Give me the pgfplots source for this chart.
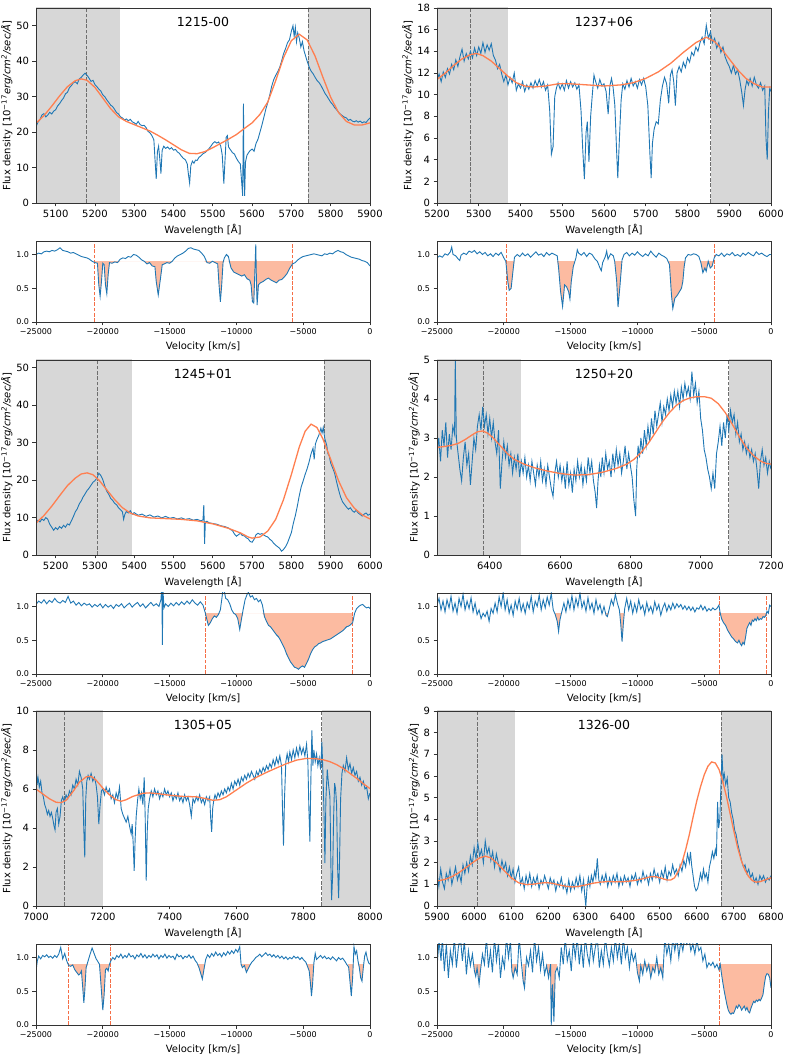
\documentclass[border=0pt]{standalone}
\usepackage{fontspec}
\setmainfont{DejaVu Sans}
\usepackage{pgfplots}
\pgfplotsset{compat=1.18}
\usepackage{pgfplotstable}

\definecolor{specc}{RGB}{31,119,180}
\definecolor{fitc}{RGB}{255,127,80}
\definecolor{fillc}{RGB}{252,187,161}
\definecolor{vlinec}{RGB}{245,110,70}
\definecolor{shade}{RGB}{215,215,215}
\definecolor{dashg}{RGB}{110,110,110}

% ---------- 1215-00 ----------
\pgfplotstableread[row sep=\\]{
x y\\
5050 21.5\\ 5055 22.8\\ 5060 23.5\\ 5065 24.8\\ 5070 25.2\\ 5075 24.3\\ 5080 24.8\\ 5085 25.6\\ 5090 25.1\\ 5095 25.9\\
5100 26.3\\ 5105 27.4\\ 5110 28.0\\ 5115 28.9\\ 5120 29.6\\ 5125 30.8\\ 5130 31.2\\ 5135 32.5\\ 5140 33.1\\ 5145 33.9\\
5150 34.2\\ 5155 33.6\\ 5160 35.0\\ 5165 35.4\\ 5170 36.1\\ 5175 36.6\\ 5180 36.0\\ 5185 35.2\\ 5190 34.3\\ 5195 34.6\\
5200 33.4\\ 5205 32.8\\ 5210 32.1\\ 5215 31.6\\ 5220 30.5\\ 5225 30.0\\ 5230 29.1\\ 5235 28.4\\ 5240 27.6\\ 5245 27.2\\
5250 26.4\\ 5255 25.5\\ 5260 25.1\\ 5265 24.3\\ 5270 24.0\\ 5275 23.4\\ 5280 23.7\\ 5285 23.2\\ 5290 23.6\\ 5295 22.9\\
5300 22.6\\ 5305 22.2\\ 5310 23.0\\ 5315 22.1\\ 5320 21.8\\ 5325 21.9\\ 5330 21.3\\ 5335 20.2\\ 5340 19.8\\ 5345 19.0\\
5350 17.8\\ 5353 12.0\\ 5356 6.8\\ 5359 14.5\\ 5362 16.0\\ 5365 12.5\\ 5368 8.3\\ 5371 14.8\\ 5375 16.0\\ 5380 15.4\\
5385 15.8\\ 5390 15.2\\ 5395 15.6\\ 5400 14.9\\ 5405 15.1\\ 5410 14.4\\ 5415 14.0\\ 5420 13.2\\ 5425 12.6\\ 5430 12.2\\
5435 11.0\\ 5438 8.0\\ 5441 5.6\\ 5444 10.5\\ 5448 11.8\\ 5452 11.2\\ 5456 12.1\\ 5460 12.0\\ 5465 12.9\\ 5470 13.3\\
5475 13.9\\ 5480 14.2\\ 5485 14.7\\ 5490 15.3\\ 5495 16.0\\ 5500 16.8\\ 5505 17.3\\ 5510 16.9\\ 5515 17.2\\ 5520 16.1\\
5524 13.5\\ 5528 5.5\\ 5531 12.0\\ 5534 18.5\\ 5537 19.0\\ 5540 15.8\\ 5545 15.0\\ 5550 14.2\\ 5555 13.8\\ 5560 12.6\\
5565 11.7\\ 5570 11.0\\ 5574 5.0\\ 5576 2.0\\ 5578 28.0\\ 5579 12.0\\ 5581 2.0\\ 5583 11.5\\ 5587 13.5\\ 5591 14.2\\
5595 14.8\\ 5600 15.2\\ 5605 14.6\\ 5610 16.8\\ 5615 18.0\\ 5620 20.0\\ 5625 22.0\\ 5630 24.2\\ 5635 26.5\\ 5640 28.4\\
5645 30.5\\ 5650 33.0\\ 5655 34.8\\ 5660 36.0\\ 5665 37.0\\ 5670 38.2\\ 5675 40.0\\ 5680 42.1\\ 5685 43.5\\ 5690 45.2\\
5695 46.0\\ 5700 48.5\\ 5704 50.0\\ 5707 47.0\\ 5710 49.5\\ 5713 45.5\\ 5716 48.0\\ 5720 46.5\\ 5724 44.0\\ 5728 45.5\\
5732 43.0\\ 5736 41.5\\ 5740 40.0\\ 5745 38.4\\ 5750 37.2\\ 5755 36.5\\ 5760 35.5\\ 5765 34.6\\ 5770 34.0\\ 5775 33.2\\
5780 32.1\\ 5785 31.0\\ 5790 30.2\\ 5795 29.3\\ 5800 28.4\\ 5805 27.8\\ 5810 26.9\\ 5815 26.3\\ 5820 25.6\\ 5825 25.0\\
5830 24.6\\ 5835 24.2\\ 5840 24.0\\ 5845 23.3\\ 5850 23.6\\ 5855 23.1\\ 5860 22.9\\ 5865 23.2\\ 5870 22.8\\ 5875 23.1\\
5880 22.6\\ 5885 22.9\\ 5890 22.7\\ 5895 23.4\\ 5900 24.0\\
}\specA
\pgfplotstableread[row sep=\\]{
x y\\
5050 22.5\\ 5070 24.6\\ 5090 27.3\\ 5110 30.2\\ 5130 32.8\\ 5150 34.5\\ 5165 35.0\\ 5180 34.6\\ 5200 32.6\\ 5220 29.6\\
5240 26.6\\ 5260 24.3\\ 5280 23.0\\ 5300 22.1\\ 5320 21.2\\ 5340 20.3\\ 5360 19.1\\ 5380 17.8\\ 5400 16.4\\ 5420 15.0\\
5440 14.0\\ 5460 13.9\\ 5480 14.5\\ 5500 15.6\\ 5520 16.8\\ 5540 18.0\\ 5560 19.3\\ 5580 21.0\\ 5600 22.6\\ 5620 25.0\\
5640 28.5\\ 5660 34.5\\ 5680 41.0\\ 5700 45.8\\ 5720 47.6\\ 5740 46.0\\ 5760 41.5\\ 5780 35.5\\ 5800 29.8\\ 5820 25.5\\
5840 23.0\\ 5860 22.0\\ 5880 22.0\\ 5900 22.6\\
}\fitA
\pgfplotstableread[row sep=\\]{
x y\\
-25000 1.00\\ -24800 1.02\\ -24600 1.01\\ -24400 1.04\\ -24200 1.05\\ -24000 1.04\\ -23800 1.06\\ -23600 1.05\\ -23400 1.07\\ -23200 1.10\\
-23000 1.06\\ -22800 1.05\\ -22600 1.04\\ -22400 1.02\\ -22200 1.03\\ -22000 1.01\\ -21800 0.99\\ -21600 0.97\\ -21400 0.96\\ -21200 0.95\\
-21000 0.93\\ -20800 0.90\\ -20600 0.88\\ -20400 0.87\\ -20300 0.55\\ -20200 0.38\\ -20100 0.60\\ -20000 0.87\\ -19900 0.85\\ -19800 0.55\\
-19700 0.42\\ -19600 0.70\\ -19500 0.88\\ -19300 0.87\\ -19100 0.89\\ -18900 0.88\\ -18700 0.93\\ -18500 0.95\\ -18300 0.94\\ -18100 0.97\\
-17900 0.96\\ -17700 1.00\\ -17500 0.99\\ -17300 0.96\\ -17100 0.92\\ -16900 0.90\\ -16700 0.86\\ -16500 0.88\\ -16300 0.83\\ -16100 0.82\\
-16000 0.60\\ -15850 0.40\\ -15700 0.62\\ -15550 0.85\\ -15400 0.86\\ -15200 0.88\\ -15000 0.87\\ -14800 0.90\\ -14600 0.95\\ -14400 0.98\\
-14200 1.00\\ -14000 1.02\\ -13800 1.05\\ -13600 1.09\\ -13400 1.10\\ -13200 1.08\\ -13000 1.07\\ -12800 1.06\\ -12600 1.02\\ -12400 0.97\\
-12200 0.88\\ -12000 0.87\\ -11800 0.90\\ -11600 0.88\\ -11400 0.86\\ -11300 0.55\\ -11200 0.30\\ -11100 0.55\\ -11000 0.88\\ -10900 0.95\\
-10750 1.00\\ -10600 0.97\\ -10500 0.88\\ -10400 0.80\\ -10200 0.74\\ -10000 0.72\\ -9800 0.70\\ -9600 0.68\\ -9400 0.70\\ -9200 0.64\\
-9000 0.62\\ -8900 0.55\\ -8800 0.30\\ -8700 0.28\\ -8600 0.85\\ -8550 1.15\\ -8500 0.60\\ -8450 0.25\\ -8350 0.55\\ -8200 0.58\\
-8000 0.60\\ -7800 0.63\\ -7600 0.65\\ -7400 0.62\\ -7200 0.60\\ -7000 0.58\\ -6800 0.62\\ -6600 0.63\\ -6400 0.67\\ -6200 0.72\\
-6000 0.80\\ -5800 0.86\\ -5600 0.88\\ -5400 0.92\\ -5200 0.95\\ -5000 0.97\\ -4800 0.98\\ -4600 0.99\\ -4400 1.00\\ -4200 1.01\\
-4000 1.00\\ -3800 0.99\\ -3600 0.98\\ -3400 1.01\\ -3200 1.00\\ -3000 1.02\\ -2800 1.01\\ -2600 1.04\\ -2400 1.06\\ -2200 1.04\\
-2000 1.03\\ -1800 1.00\\ -1600 0.98\\ -1400 0.96\\ -1200 0.95\\ -1000 0.94\\ -800 0.93\\ -600 0.91\\ -400 0.90\\ -200 0.88\\ 0 0.83\\
}\velA

% ---------- 1237+06 ----------
\pgfplotstableread[row sep=\\]{
x y\\
5200 11.3\\ 5205 11.9\\ 5210 11.2\\ 5215 12.1\\ 5220 11.6\\ 5225 12.4\\ 5230 11.9\\ 5235 12.8\\ 5240 12.3\\ 5245 13.2\\
5250 12.6\\ 5255 13.5\\ 5260 14.2\\ 5265 13.1\\ 5270 13.8\\ 5275 13.3\\ 5280 14.0\\ 5285 13.4\\ 5290 14.3\\ 5295 13.6\\
5300 14.4\\ 5305 13.8\\ 5310 14.8\\ 5315 13.9\\ 5320 14.6\\ 5325 14.1\\ 5330 14.7\\ 5335 13.6\\ 5340 13.2\\ 5345 12.4\\
5350 12.8\\ 5355 11.9\\ 5360 11.2\\ 5365 11.8\\ 5370 10.9\\ 5375 11.6\\ 5380 11.1\\ 5385 12.0\\ 5390 10.4\\ 5395 11.0\\
5400 10.6\\ 5405 11.2\\ 5410 10.3\\ 5415 10.9\\ 5420 10.5\\ 5425 11.1\\ 5430 10.6\\ 5435 11.3\\ 5440 10.8\\ 5445 11.4\\
5450 10.7\\ 5455 11.2\\ 5460 10.4\\ 5465 10.9\\ 5470 8.5\\ 5474 4.5\\ 5478 5.2\\ 5482 9.8\\ 5486 10.6\\ 5490 11.1\\
5495 10.5\\ 5500 11.0\\ 5505 10.4\\ 5510 11.3\\ 5515 10.6\\ 5520 11.2\\ 5525 10.7\\ 5530 11.1\\ 5535 10.5\\ 5540 10.9\\
5545 8.5\\ 5549 5.0\\ 5553 2.2\\ 5557 6.5\\ 5560 7.5\\ 5564 3.8\\ 5568 8.0\\ 5572 10.0\\ 5576 11.8\\ 5580 11.2\\
5585 10.6\\ 5590 11.4\\ 5595 10.8\\ 5600 11.0\\ 5605 10.3\\ 5610 8.2\\ 5614 10.8\\ 5618 11.5\\ 5622 10.6\\ 5626 9.0\\
5630 5.0\\ 5633 2.3\\ 5637 6.0\\ 5641 9.5\\ 5645 11.0\\ 5650 10.5\\ 5655 11.3\\ 5660 10.7\\ 5665 11.5\\ 5670 10.8\\
5675 11.2\\ 5680 10.6\\ 5685 11.4\\ 5690 10.9\\ 5695 11.5\\ 5700 10.7\\ 5705 9.0\\ 5710 4.5\\ 5713 2.3\\ 5716 5.5\\
5720 6.8\\ 5725 7.5\\ 5730 7.3\\ 5735 9.5\\ 5740 10.8\\ 5745 11.6\\ 5750 11.0\\ 5755 9.2\\ 5759 11.8\\ 5763 12.3\\
5767 11.2\\ 5771 9.0\\ 5775 12.0\\ 5780 12.6\\ 5785 12.1\\ 5790 13.0\\ 5795 12.5\\ 5800 13.4\\ 5805 13.0\\ 5810 13.9\\
5815 13.6\\ 5820 14.4\\ 5825 14.0\\ 5830 14.8\\ 5835 15.3\\ 5840 14.7\\ 5845 16.4\\ 5850 15.2\\ 5855 15.8\\ 5860 14.8\\
5865 15.2\\ 5870 14.3\\ 5875 14.8\\ 5880 13.9\\ 5885 14.4\\ 5890 13.5\\ 5895 13.0\\ 5900 12.6\\ 5905 12.0\\ 5910 12.7\\
5915 11.9\\ 5920 12.3\\ 5925 11.4\\ 5930 10.2\\ 5934 9.0\\ 5938 10.5\\ 5942 11.3\\ 5946 10.9\\ 5950 11.5\\ 5955 10.8\\
5960 11.6\\ 5965 10.9\\ 5970 10.6\\ 5975 11.1\\ 5980 10.4\\ 5985 10.8\\ 5988 6.0\\ 5991 4.0\\ 5994 8.5\\ 5997 10.6\\ 6000 10.3\\
}\specB
\pgfplotstableread[row sep=\\]{
x y\\
5200 11.4\\ 5220 12.0\\ 5240 12.7\\ 5260 13.3\\ 5280 13.7\\ 5295 13.8\\ 5310 13.6\\ 5330 13.1\\ 5350 12.4\\ 5370 11.7\\
5390 11.1\\ 5410 10.8\\ 5430 10.7\\ 5460 10.8\\ 5490 11.0\\ 5520 11.0\\ 5560 10.9\\ 5600 10.8\\ 5640 10.9\\ 5670 11.1\\
5700 11.5\\ 5730 12.1\\ 5760 12.9\\ 5790 13.9\\ 5820 14.8\\ 5845 15.3\\ 5865 14.9\\ 5880 14.3\\ 5900 13.3\\ 5920 12.3\\
5940 11.5\\ 5960 11.0\\ 5980 10.7\\ 6000 10.7\\
}\fitB
\pgfplotstableread[row sep=\\]{
x y\\
-25000 0.95\\ -24800 0.98\\ -24600 0.96\\ -24400 1.01\\ -24200 0.99\\ -24000 1.04\\ -23900 1.11\\ -23800 1.00\\ -23600 0.98\\ -23400 0.93\\
-23300 0.91\\ -23200 0.99\\ -23000 1.02\\ -22800 1.00\\ -22600 1.05\\ -22400 1.03\\ -22200 1.06\\ -22000 1.01\\ -21800 1.04\\ -21600 1.00\\
-21400 1.03\\ -21200 0.98\\ -21000 1.01\\ -20800 0.97\\ -20600 1.02\\ -20400 0.99\\ -20200 1.03\\ -20000 0.95\\ -19850 0.90\\ -19700 0.60\\
-19600 0.47\\ -19450 0.50\\ -19300 0.78\\ -19200 0.96\\ -19000 1.00\\ -18800 0.97\\ -18600 1.02\\ -18400 0.98\\ -18200 1.01\\ -18000 0.96\\
-17800 1.00\\ -17600 1.04\\ -17400 0.99\\ -17200 1.01\\ -17000 0.97\\ -16800 1.03\\ -16600 0.99\\ -16400 1.02\\ -16200 1.00\\ -16000 0.98\\
-15900 0.80\\ -15750 0.45\\ -15600 0.23\\ -15450 0.55\\ -15300 0.52\\ -15150 0.45\\ -15050 0.34\\ -14950 0.60\\ -14800 0.82\\ -14600 0.95\\
-14500 1.07\\ -14400 1.02\\ -14200 0.99\\ -14000 1.03\\ -13800 0.97\\ -13600 1.02\\ -13400 1.00\\ -13200 0.94\\ -13000 0.90\\ -12800 0.80\\
-12700 0.76\\ -12600 0.88\\ -12400 0.97\\ -12300 1.05\\ -12200 0.93\\ -12000 1.01\\ -11800 0.98\\ -11700 0.90\\ -11550 0.60\\ -11450 0.22\\
-11300 0.55\\ -11150 0.92\\ -11000 1.00\\ -10800 1.03\\ -10600 0.98\\ -10400 1.02\\ -10200 0.99\\ -10000 1.04\\ -9800 1.00\\ -9600 0.97\\
-9400 1.01\\ -9200 0.98\\ -9000 1.05\\ -8800 1.00\\ -8600 0.96\\ -8400 1.02\\ -8200 0.99\\ -8000 0.97\\ -7800 0.94\\ -7600 0.85\\
-7450 0.40\\ -7350 0.20\\ -7200 0.35\\ -7000 0.40\\ -6850 0.45\\ -6700 0.50\\ -6600 0.60\\ -6500 0.82\\ -6400 0.95\\ -6200 1.00\\
-6000 0.99\\ -5800 1.01\\ -5600 1.00\\ -5400 0.97\\ -5250 0.88\\ -5100 0.73\\ -4950 0.80\\ -4850 0.75\\ -4700 0.90\\ -4550 0.80\\
-4400 0.83\\ -4250 0.95\\ -4100 1.00\\ -3900 0.98\\ -3700 1.02\\ -3500 0.97\\ -3300 1.01\\ -3100 0.99\\ -2900 1.03\\ -2700 0.98\\
-2500 1.00\\ -2300 0.97\\ -2100 1.02\\ -1900 0.99\\ -1700 1.03\\ -1500 1.00\\ -1300 0.98\\ -1100 1.04\\ -900 1.00\\ -700 1.02\\
-500 0.99\\ -300 0.97\\ -100 1.00\\ 0 1.00\\
}\velB

% ---------- 1245+01 ----------
\pgfplotstableread[row sep=\\]{
x y\\
5150 8.5\\ 5155 9.3\\ 5160 8.8\\ 5165 9.6\\ 5170 9.2\\ 5175 10.0\\ 5180 9.5\\ 5185 8.2\\ 5190 7.4\\ 5195 6.6\\
5200 7.3\\ 5205 6.8\\ 5210 7.6\\ 5215 7.1\\ 5220 7.9\\ 5225 7.4\\ 5230 8.3\\ 5235 8.0\\ 5240 9.1\\ 5245 10.2\\
5250 11.5\\ 5255 12.3\\ 5260 13.6\\ 5265 14.4\\ 5270 15.5\\ 5275 16.3\\ 5280 17.2\\ 5285 17.8\\ 5290 18.6\\ 5295 19.4\\
5300 19.8\\ 5305 20.5\\ 5310 21.8\\ 5315 21.2\\ 5320 20.1\\ 5325 18.4\\ 5330 17.0\\ 5335 16.2\\ 5340 15.1\\ 5345 14.6\\
5350 13.8\\ 5355 13.4\\ 5360 12.6\\ 5365 12.1\\ 5370 11.5\\ 5373 9.5\\ 5376 10.8\\ 5380 11.6\\ 5385 11.2\\ 5390 11.8\\
5395 10.9\\ 5400 11.3\\ 5410 10.6\\ 5420 10.9\\ 5430 10.3\\ 5440 10.7\\ 5450 10.1\\ 5460 10.4\\ 5470 9.9\\ 5480 10.3\\
5490 9.8\\ 5500 10.0\\ 5510 9.6\\ 5520 9.9\\ 5530 9.5\\ 5540 9.7\\ 5550 9.3\\ 5560 9.5\\ 5570 9.1\\ 5575 9.4\\
5577 13.3\\ 5578 9.0\\ 5579 3.0\\ 5581 8.8\\ 5585 9.0\\ 5590 8.6\\ 5600 8.4\\ 5610 8.2\\ 5620 7.8\\ 5630 7.6\\
5640 7.2\\ 5645 6.8\\ 5650 6.5\\ 5655 5.6\\ 5660 5.0\\ 5665 5.4\\ 5670 5.8\\ 5675 5.2\\ 5680 5.1\\ 5685 4.6\\
5690 4.3\\ 5695 3.6\\ 5700 3.4\\ 5705 4.2\\ 5710 5.4\\ 5715 5.8\\ 5720 5.5\\ 5725 5.7\\ 5730 5.3\\ 5735 5.0\\
5740 4.8\\ 5745 4.2\\ 5750 3.8\\ 5755 3.1\\ 5760 2.6\\ 5765 2.2\\ 5770 1.8\\ 5775 1.0\\ 5780 1.5\\ 5785 2.2\\
5790 3.2\\ 5795 4.6\\ 5800 6.0\\ 5805 8.5\\ 5810 10.5\\ 5815 13.0\\ 5820 15.8\\ 5825 18.2\\ 5830 19.8\\ 5835 21.5\\
5840 23.0\\ 5845 24.8\\ 5850 27.0\\ 5855 28.5\\ 5858 25.5\\ 5861 29.6\\ 5865 30.8\\ 5870 32.0\\ 5875 33.8\\ 5878 32.5\\
5881 34.0\\ 5885 31.0\\ 5890 29.2\\ 5893 27.0\\ 5896 26.5\\ 5900 24.5\\ 5905 23.2\\ 5910 21.8\\ 5915 19.5\\ 5920 17.4\\
5925 15.5\\ 5930 14.2\\ 5935 13.5\\ 5940 12.8\\ 5945 12.2\\ 5950 12.6\\ 5955 11.8\\ 5960 11.4\\ 5965 11.9\\ 5970 11.2\\
5975 10.8\\ 5980 10.4\\ 5985 10.9\\ 5990 11.2\\ 5995 10.6\\ 6000 10.9\\
}\specC
\pgfplotstableread[row sep=\\]{
x y\\
5150 8.5\\ 5170 10.5\\ 5190 13.0\\ 5210 15.8\\ 5230 18.5\\ 5250 20.5\\ 5265 21.6\\ 5280 21.9\\ 5295 21.4\\ 5310 20.0\\
5330 17.4\\ 5350 14.8\\ 5370 12.6\\ 5390 11.2\\ 5410 10.4\\ 5440 9.9\\ 5480 9.7\\ 5520 9.5\\ 5560 9.1\\ 5600 8.3\\
5640 7.1\\ 5670 5.9\\ 5690 4.8\\ 5700 4.5\\ 5720 4.8\\ 5740 6.4\\ 5760 9.5\\ 5780 14.8\\ 5800 21.5\\ 5820 28.8\\
5835 33.0\\ 5850 34.9\\ 5865 34.0\\ 5880 31.0\\ 5900 25.5\\ 5920 19.8\\ 5940 15.3\\ 5960 12.5\\ 5980 10.7\\ 6000 9.6\\
}\fitC
\pgfplotstableread[row sep=\\]{
x y\\
-25000 1.03\\ -24800 1.08\\ -24600 1.05\\ -24400 1.10\\ -24200 1.04\\ -24000 1.09\\ -23800 1.06\\ -23600 1.12\\ -23400 1.07\\ -23200 1.05\\
-23000 1.09\\ -22800 1.06\\ -22600 1.15\\ -22400 1.05\\ -22200 1.08\\ -22000 1.02\\ -21800 1.06\\ -21600 1.01\\ -21400 1.05\\ -21200 1.02\\
-21000 1.04\\ -20800 0.99\\ -20600 1.03\\ -20400 1.00\\ -20200 1.04\\ -20000 0.98\\ -19800 1.03\\ -19600 0.99\\ -19400 1.02\\ -19200 0.97\\
-19000 1.03\\ -18800 1.00\\ -18600 1.04\\ -18400 0.98\\ -18200 1.02\\ -18000 1.05\\ -17800 0.99\\ -17600 1.03\\ -17400 1.06\\ -17200 1.00\\
-17000 1.04\\ -16800 0.98\\ -16600 1.02\\ -16400 1.06\\ -16200 1.01\\ -16000 1.04\\ -15800 1.00\\ -15650 1.10\\ -15580 1.30\\ -15540 0.43\\
-15500 1.25\\ -15420 0.98\\ -15300 1.04\\ -15100 1.00\\ -14900 1.05\\ -14700 1.01\\ -14500 1.06\\ -14300 1.02\\ -14100 1.07\\ -13900 1.03\\
-13700 1.08\\ -13500 1.04\\ -13300 1.10\\ -13100 1.05\\ -12900 1.02\\ -12700 1.07\\ -12500 1.02\\ -12350 0.92\\ -12200 0.80\\ -12100 0.72\\
-11950 0.76\\ -11800 0.82\\ -11650 0.86\\ -11500 0.84\\ -11350 0.88\\ -11200 0.95\\ -11100 1.10\\ -11000 1.25\\ -10900 1.22\\ -10800 1.12\\
-10650 1.10\\ -10500 1.04\\ -10350 0.95\\ -10200 0.90\\ -10050 0.88\\ -9900 0.82\\ -9750 0.66\\ -9650 0.78\\ -9500 0.95\\ -9350 1.10\\
-9200 1.18\\ -9100 1.21\\ -8950 1.14\\ -8800 1.16\\ -8650 1.10\\ -8500 1.12\\ -8350 1.07\\ -8200 1.10\\ -8050 1.02\\ -7900 0.85\\
-7750 0.78\\ -7600 0.72\\ -7450 0.70\\ -7300 0.66\\ -7150 0.62\\ -7000 0.58\\ -6850 0.55\\ -6700 0.50\\ -6550 0.44\\ -6400 0.38\\
-6250 0.30\\ -6100 0.24\\ -5950 0.18\\ -5800 0.14\\ -5650 0.10\\ -5500 0.09\\ -5350 0.07\\ -5200 0.10\\ -5050 0.12\\ -4900 0.10\\
-4750 0.16\\ -4600 0.22\\ -4450 0.30\\ -4300 0.36\\ -4150 0.40\\ -4000 0.42\\ -3850 0.45\\ -3700 0.46\\ -3550 0.48\\ -3400 0.49\\
-3250 0.50\\ -3100 0.51\\ -2950 0.52\\ -2800 0.54\\ -2650 0.56\\ -2500 0.58\\ -2350 0.60\\ -2200 0.62\\ -2050 0.64\\ -1900 0.67\\
-1750 0.70\\ -1600 0.71\\ -1450 0.73\\ -1300 0.76\\ -1150 0.90\\ -1000 0.97\\ -850 1.00\\ -700 1.02\\ -550 1.03\\ -400 1.00\\
-250 0.98\\ -100 0.99\\ 0 0.97\\
}\velC

% ---------- 1250+20 ----------
\pgfplotstableread[row sep=\\]{
x y\\
6250 2.6\\ 6255 3.0\\ 6260 2.4\\ 6265 3.2\\ 6270 2.8\\ 6275 3.4\\ 6280 2.5\\ 6285 3.1\\ 6290 2.7\\ 6295 3.3\\
6300 3.1\\ 6302 5.0\\ 6305 3.0\\ 6310 2.6\\ 6315 2.2\\ 6320 1.9\\ 6325 2.5\\ 6330 2.9\\ 6335 2.3\\ 6340 2.6\\
6345 1.8\\ 6350 2.4\\ 6355 3.0\\ 6360 2.7\\ 6365 3.3\\ 6370 3.6\\ 6375 3.2\\ 6380 3.8\\ 6385 3.3\\ 6390 3.6\\
6395 3.1\\ 6400 3.5\\ 6405 3.0\\ 6410 3.4\\ 6415 2.9\\ 6420 2.6\\ 6425 3.2\\ 6430 1.7\\ 6435 2.4\\ 6440 2.9\\
6445 2.5\\ 6450 2.8\\ 6455 2.3\\ 6460 2.6\\ 6465 2.1\\ 6470 2.5\\ 6475 2.2\\ 6480 2.6\\ 6485 2.0\\ 6490 2.4\\
6495 2.1\\ 6500 2.5\\ 6505 2.0\\ 6510 2.3\\ 6515 1.9\\ 6520 2.4\\ 6525 2.1\\ 6530 1.8\\ 6535 2.3\\ 6540 2.0\\
6545 2.4\\ 6550 1.9\\ 6555 2.2\\ 6560 1.8\\ 6565 2.3\\ 6570 2.0\\ 6575 1.7\\ 6580 1.5\\ 6585 2.1\\ 6590 2.4\\
6595 2.0\\ 6600 2.3\\ 6605 1.9\\ 6610 2.2\\ 6615 1.7\\ 6620 2.4\\ 6625 1.8\\ 6630 2.1\\ 6635 1.6\\ 6640 2.2\\
6645 1.9\\ 6650 2.4\\ 6655 2.0\\ 6660 2.3\\ 6665 1.8\\ 6670 2.2\\ 6675 1.9\\ 6680 2.5\\ 6685 2.1\\ 6690 2.4\\
6695 1.9\\ 6700 1.6\\ 6704 1.2\\ 6708 1.9\\ 6712 2.3\\ 6716 2.0\\ 6720 2.5\\ 6725 2.1\\ 6730 2.6\\ 6735 2.2\\
6740 2.4\\ 6745 2.0\\ 6750 2.6\\ 6755 2.2\\ 6760 2.7\\ 6765 2.3\\ 6770 2.6\\ 6775 2.1\\ 6780 2.4\\ 6785 2.8\\
6790 2.2\\ 6795 2.6\\ 6800 2.3\\ 6805 2.0\\ 6810 1.4\\ 6815 1.0\\ 6818 2.2\\ 6822 2.8\\ 6826 2.5\\ 6830 3.0\\
6835 2.6\\ 6840 3.2\\ 6845 2.8\\ 6850 3.3\\ 6855 2.9\\ 6860 3.5\\ 6865 3.1\\ 6870 3.7\\ 6875 3.3\\ 6880 3.6\\
6885 3.9\\ 6890 3.4\\ 6895 3.8\\ 6900 3.6\\ 6905 4.0\\ 6910 3.7\\ 6915 4.1\\ 6920 3.8\\ 6925 4.2\\ 6930 3.9\\
6935 4.2\\ 6940 3.8\\ 6945 4.3\\ 6950 4.0\\ 6955 4.4\\ 6960 4.1\\ 6965 4.3\\ 6970 4.0\\ 6975 4.7\\ 6980 4.1\\
6985 4.4\\ 6990 3.9\\ 6995 4.2\\ 7000 3.5\\ 7005 3.2\\ 7010 2.7\\ 7015 2.5\\ 7020 2.2\\ 7025 2.0\\ 7030 1.7\\
7035 2.1\\ 7040 1.7\\ 7045 2.6\\ 7050 2.9\\ 7055 3.3\\ 7060 2.8\\ 7065 3.4\\ 7070 3.0\\ 7075 3.6\\ 7080 3.2\\
7085 3.7\\ 7090 3.4\\ 7095 3.6\\ 7100 3.1\\ 7105 3.4\\ 7110 2.9\\ 7115 3.1\\ 7120 2.7\\ 7125 2.9\\ 7130 2.6\\
7135 2.8\\ 7140 2.5\\ 7145 2.7\\ 7150 2.4\\ 7155 2.6\\ 7160 2.2\\ 7165 1.7\\ 7170 2.4\\ 7175 2.7\\ 7180 2.3\\
7185 2.5\\ 7190 2.1\\ 7195 2.4\\ 7200 2.2\\
}\specD
\pgfplotstableread[row sep=\\]{
x y\\
6250 2.76\\ 6270 2.78\\ 6290 2.81\\ 6310 2.86\\ 6330 2.96\\ 6350 3.08\\ 6365 3.16\\ 6380 3.18\\ 6395 3.12\\ 6410 3.00\\
6430 2.80\\ 6450 2.60\\ 6470 2.45\\ 6500 2.32\\ 6530 2.23\\ 6560 2.16\\ 6600 2.09\\ 6640 2.05\\ 6680 2.06\\ 6720 2.12\\
6760 2.22\\ 6790 2.33\\ 6810 2.45\\ 6830 2.62\\ 6850 2.85\\ 6870 3.12\\ 6890 3.40\\ 6910 3.64\\ 6930 3.83\\ 6950 3.96\\
6970 4.03\\ 6990 4.06\\ 7010 4.06\\ 7030 4.02\\ 7050 3.88\\ 7070 3.65\\ 7090 3.35\\ 7110 3.03\\ 7130 2.75\\ 7150 2.55\\
7170 2.41\\ 7185 2.35\\ 7200 2.33\\
}\fitD
\pgfplotstableread[row sep=\\]{
x y\\
-25000 1.02\\ -24850 1.12\\ -24700 0.95\\ -24550 1.08\\ -24400 0.92\\ -24250 1.10\\ -24100 0.98\\ -23950 1.15\\ -23800 0.93\\ -23650 1.05\\
-23500 0.90\\ -23350 1.12\\ -23200 1.00\\ -23050 1.18\\ -22900 0.95\\ -22750 1.08\\ -22600 0.97\\ -22450 1.13\\ -22300 0.92\\ -22150 1.05\\
-22000 0.88\\ -21850 0.95\\ -21700 0.82\\ -21550 0.90\\ -21400 0.85\\ -21250 0.93\\ -21100 0.78\\ -20950 0.97\\ -20800 0.90\\ -20650 1.05\\
-20500 0.92\\ -20350 1.14\\ -20200 1.00\\ -20050 1.20\\ -19900 0.95\\ -19750 1.10\\ -19600 0.90\\ -19450 1.02\\ -19300 0.87\\ -19150 1.08\\
-19000 0.96\\ -18850 1.12\\ -18700 0.93\\ -18550 1.04\\ -18400 0.90\\ -18250 1.06\\ -18100 0.97\\ -17950 1.15\\ -17800 0.92\\ -17650 1.08\\
-17500 1.00\\ -17350 1.17\\ -17200 0.95\\ -17050 1.10\\ -16900 0.98\\ -16750 1.14\\ -16600 1.02\\ -16450 1.19\\ -16300 0.95\\ -16150 0.88\\
-16000 0.78\\ -15900 0.63\\ -15800 0.80\\ -15650 0.93\\ -15500 1.05\\ -15350 0.92\\ -15200 1.10\\ -15050 0.97\\ -14900 1.16\\ -14750 0.95\\
-14600 1.12\\ -14450 1.00\\ -14300 1.20\\ -14150 0.98\\ -14000 1.08\\ -13850 0.93\\ -13700 1.13\\ -13550 0.96\\ -13400 1.05\\ -13250 0.90\\
-13100 1.10\\ -12950 0.95\\ -12800 1.03\\ -12650 0.89\\ -12500 1.00\\ -12350 0.87\\ -12250 0.85\\ -12100 0.97\\ -11950 1.10\\ -11800 1.02\\
-11650 1.18\\ -11500 1.05\\ -11350 0.95\\ -11250 0.75\\ -11150 0.48\\ -11050 0.75\\ -10950 0.97\\ -10800 1.12\\ -10650 0.95\\ -10500 1.08\\
-10350 0.90\\ -10200 1.04\\ -10050 0.92\\ -9900 1.10\\ -9750 0.96\\ -9600 1.02\\ -9450 0.88\\ -9300 1.06\\ -9150 0.93\\ -9000 1.00\\
-8850 0.90\\ -8700 1.07\\ -8550 0.95\\ -8400 1.03\\ -8250 0.87\\ -8100 0.98\\ -7950 1.05\\ -7800 0.93\\ -7650 1.02\\ -7500 0.95\\
-7350 1.05\\ -7200 0.97\\ -7050 1.04\\ -6900 0.99\\ -6750 1.03\\ -6600 0.96\\ -6450 1.01\\ -6300 0.95\\ -6150 1.00\\ -6000 0.94\\
-5850 0.99\\ -5700 0.92\\ -5550 0.98\\ -5400 0.96\\ -5250 1.02\\ -5100 0.95\\ -4950 1.00\\ -4800 0.93\\ -4650 0.97\\ -4500 0.94\\
-4350 0.98\\ -4200 0.95\\ -4050 0.97\\ -3900 1.02\\ -3800 0.90\\ -3700 0.82\\ -3550 0.76\\ -3400 0.72\\ -3250 0.65\\ -3100 0.60\\
-2950 0.55\\ -2800 0.52\\ -2650 0.48\\ -2500 0.46\\ -2400 0.50\\ -2300 0.45\\ -2200 0.42\\ -2100 0.47\\ -2000 0.44\\ -1900 0.55\\
-1800 0.68\\ -1700 0.72\\ -1600 0.76\\ -1500 0.72\\ -1400 0.80\\ -1300 0.78\\ -1200 0.82\\ -1100 0.79\\ -1000 0.84\\ -900 0.80\\
-800 0.82\\ -700 0.81\\ -600 0.85\\ -500 0.84\\ -400 0.86\\ -300 0.93\\ -200 0.90\\ -100 1.02\\ 0 1.00\\
}\velD

% ---------- 1305+05 ----------
\pgfplotstableread[row sep=\\]{
x y\\
7000 7.2\\ 7003 6.2\\ 7006 6.6\\ 7010 6.1\\ 7014 6.4\\ 7018 5.8\\ 7022 5.6\\ 7026 5.2\\ 7030 5.0\\ 7034 4.7\\
7038 4.9\\ 7042 4.6\\ 7046 4.8\\ 7050 4.5\\ 7054 4.1\\ 7057 3.9\\ 7060 4.8\\ 7064 5.0\\ 7068 4.2\\ 7072 4.6\\
7076 5.4\\ 7080 5.6\\ 7085 5.3\\ 7090 5.7\\ 7095 5.5\\ 7100 5.9\\ 7105 5.7\\ 7110 6.2\\ 7115 6.0\\ 7120 6.5\\
7125 6.2\\ 7130 6.9\\ 7135 6.6\\ 7140 6.0\\ 7143 4.0\\ 7146 2.5\\ 7149 5.5\\ 7152 6.4\\ 7156 6.7\\ 7160 6.5\\
7165 6.8\\ 7170 6.4\\ 7175 6.6\\ 7180 6.2\\ 7184 5.6\\ 7188 4.2\\ 7192 5.2\\ 7196 5.9\\ 7200 6.0\\ 7205 5.7\\
7210 6.1\\ 7215 5.8\\ 7220 6.0\\ 7225 5.5\\ 7230 5.7\\ 7235 5.3\\ 7240 5.8\\ 7245 5.5\\ 7250 6.1\\ 7255 5.0\\
7260 4.7\\ 7265 4.5\\ 7270 4.3\\ 7275 4.6\\ 7280 4.1\\ 7285 3.7\\ 7288 4.2\\ 7291 3.2\\ 7294 1.8\\ 7297 3.5\\
7300 4.6\\ 7304 5.4\\ 7308 6.0\\ 7312 5.5\\ 7316 5.8\\ 7320 5.2\\ 7324 6.6\\ 7327 4.5\\ 7330 1.3\\ 7333 3.8\\
7336 5.0\\ 7340 5.5\\ 7345 5.9\\ 7350 5.6\\ 7355 6.0\\ 7360 5.7\\ 7365 5.9\\ 7370 5.5\\ 7375 5.8\\ 7380 5.6\\
7385 6.0\\ 7390 5.7\\ 7395 5.9\\ 7400 5.6\\ 7405 5.8\\ 7410 5.4\\ 7415 5.7\\ 7420 5.5\\ 7425 5.8\\ 7430 5.4\\
7435 5.6\\ 7440 5.3\\ 7445 5.7\\ 7450 5.4\\ 7455 5.6\\ 7460 5.2\\ 7465 4.6\\ 7470 5.5\\ 7475 5.3\\ 7480 5.6\\
7485 5.4\\ 7490 5.7\\ 7495 5.3\\ 7500 5.5\\ 7505 5.2\\ 7510 5.6\\ 7515 5.4\\ 7520 5.6\\ 7523 4.5\\ 7526 3.8\\
7529 5.0\\ 7532 5.4\\ 7536 5.7\\ 7540 5.5\\ 7545 5.8\\ 7550 5.6\\ 7555 5.9\\ 7560 5.7\\ 7565 6.0\\ 7570 5.8\\
7575 6.1\\ 7580 5.9\\ 7585 6.3\\ 7590 6.0\\ 7595 6.4\\ 7600 6.2\\ 7605 6.5\\ 7610 6.2\\ 7615 6.6\\ 7620 6.4\\
7625 6.7\\ 7630 6.5\\ 7635 6.8\\ 7640 6.6\\ 7645 6.9\\ 7650 6.7\\ 7655 6.5\\ 7660 6.9\\ 7665 6.7\\ 7670 7.0\\
7675 6.8\\ 7680 7.1\\ 7685 6.9\\ 7690 7.2\\ 7695 7.0\\ 7700 7.3\\ 7705 7.1\\ 7710 7.5\\ 7715 7.2\\ 7720 7.6\\
7725 7.3\\ 7730 7.7\\ 7735 7.2\\ 7738 5.0\\ 7741 3.1\\ 7744 5.5\\ 7748 7.4\\ 7752 7.8\\ 7756 7.4\\ 7760 7.9\\
7765 7.5\\ 7770 8.0\\ 7775 7.6\\ 7780 8.1\\ 7785 7.7\\ 7790 8.2\\ 7795 7.8\\ 7800 8.1\\ 7805 7.7\\ 7810 8.3\\
7814 7.4\\ 7817 5.0\\ 7820 3.3\\ 7823 6.5\\ 7826 9.0\\ 7829 7.2\\ 7832 8.0\\ 7836 7.4\\ 7840 7.8\\ 7844 7.2\\
7848 7.6\\ 7852 7.0\\ 7856 8.4\\ 7859 6.8\\ 7862 5.0\\ 7865 2.2\\ 7868 5.5\\ 7872 7.0\\ 7876 6.2\\ 7880 5.6\\
7883 2.0\\ 7885 0.3\\ 7888 1.5\\ 7891 4.5\\ 7894 6.3\\ 7897 6.0\\ 7900 5.2\\ 7903 2.0\\ 7906 0.4\\ 7909 2.5\\
7912 5.5\\ 7916 6.8\\ 7920 7.2\\ 7925 6.9\\ 7930 7.6\\ 7935 7.0\\ 7940 7.3\\ 7945 6.8\\ 7950 7.1\\ 7955 6.7\\
7960 6.9\\ 7965 6.4\\ 7970 6.6\\ 7975 6.2\\ 7980 6.4\\ 7985 6.0\\ 7990 6.1\\ 7995 5.5\\ 8000 5.8\\
}\specE
\pgfplotstableread[row sep=\\]{
x y\\
7000 6.00\\ 7020 5.75\\ 7040 5.50\\ 7060 5.32\\ 7075 5.30\\ 7090 5.42\\ 7110 5.85\\ 7130 6.35\\ 7150 6.62\\ 7165 6.65\\
7180 6.45\\ 7200 6.05\\ 7220 5.70\\ 7240 5.45\\ 7255 5.37\\ 7270 5.45\\ 7290 5.62\\ 7320 5.78\\ 7340 5.80\\ 7370 5.75\\
7400 5.68\\ 7440 5.62\\ 7480 5.60\\ 7510 5.50\\ 7530 5.42\\ 7550 5.45\\ 7570 5.60\\ 7600 5.95\\ 7630 6.30\\ 7660 6.60\\
7690 6.85\\ 7720 7.08\\ 7750 7.30\\ 7780 7.48\\ 7810 7.57\\ 7840 7.55\\ 7860 7.50\\ 7880 7.40\\ 7900 7.25\\ 7920 7.05\\
7940 6.80\\ 7960 6.55\\ 7980 6.27\\ 8000 6.02\\
}\fitE
\pgfplotstableread[row sep=\\]{
x y\\
-25000 0.80\\ -24900 0.95\\ -24800 1.02\\ -24650 0.98\\ -24500 1.03\\ -24350 1.01\\ -24200 1.04\\ -24050 1.00\\ -23900 1.02\\ -23750 0.99\\
-23600 1.03\\ -23450 1.00\\ -23300 1.05\\ -23150 1.15\\ -23000 0.98\\ -22850 1.06\\ -22700 0.95\\ -22550 0.88\\ -22400 0.87\\ -22250 0.89\\
-22100 0.82\\ -21950 0.78\\ -21800 0.74\\ -21700 0.76\\ -21600 0.80\\ -21500 0.55\\ -21420 0.33\\ -21350 0.50\\ -21250 0.85\\ -21100 0.95\\
-20950 1.05\\ -20800 1.14\\ -20650 1.06\\ -20500 0.98\\ -20400 0.95\\ -20250 0.90\\ -20100 0.50\\ -20000 0.22\\ -19900 0.45\\ -19800 0.82\\
-19700 0.84\\ -19600 0.80\\ -19500 0.90\\ -19400 0.95\\ -19250 1.00\\ -19100 0.97\\ -18950 1.03\\ -18800 1.00\\ -18650 1.05\\ -18500 0.99\\
-18350 1.03\\ -18200 1.00\\ -18050 1.06\\ -17900 1.01\\ -17750 1.03\\ -17600 0.98\\ -17450 1.04\\ -17300 1.01\\ -17150 1.06\\ -17000 1.00\\
-16850 1.04\\ -16700 0.99\\ -16550 1.03\\ -16400 1.00\\ -16250 1.05\\ -16100 1.01\\ -15950 1.04\\ -15800 0.98\\ -15650 1.03\\ -15500 1.00\\
-15350 1.05\\ -15200 0.99\\ -15050 1.03\\ -14900 1.00\\ -14750 1.02\\ -14600 0.97\\ -14450 1.05\\ -14300 1.01\\ -14150 1.03\\ -14000 0.98\\
-13850 1.02\\ -13700 1.00\\ -13550 1.04\\ -13400 0.99\\ -13250 1.02\\ -13100 0.96\\ -12950 0.92\\ -12800 0.85\\ -12650 0.75\\ -12550 0.68\\
-12450 0.80\\ -12300 0.97\\ -12150 1.04\\ -12000 1.00\\ -11850 1.06\\ -11700 1.02\\ -11550 1.08\\ -11400 1.03\\ -11250 1.06\\ -11100 1.01\\
-10950 1.07\\ -10800 1.03\\ -10650 1.09\\ -10500 1.05\\ -10350 1.10\\ -10200 1.06\\ -10050 1.12\\ -9900 1.08\\ -9750 1.16\\ -9650 0.90\\
-9550 0.85\\ -9400 0.88\\ -9250 0.78\\ -9150 0.82\\ -9000 0.88\\ -8850 0.93\\ -8700 0.96\\ -8550 1.00\\ -8400 1.02\\ -8250 1.05\\
-8100 1.01\\ -7950 1.04\\ -7800 1.07\\ -7650 1.03\\ -7500 1.05\\ -7350 1.01\\ -7200 1.04\\ -7050 1.00\\ -6900 1.03\\ -6750 0.99\\
-6600 1.02\\ -6450 0.98\\ -6300 1.01\\ -6150 0.97\\ -6000 1.00\\ -5850 0.98\\ -5700 1.02\\ -5550 0.99\\ -5400 1.01\\ -5250 0.97\\
-5100 1.00\\ -4950 0.96\\ -4800 0.93\\ -4700 0.88\\ -4550 0.80\\ -4450 0.60\\ -4380 0.43\\ -4300 0.60\\ -4200 0.92\\ -4100 1.06\\
-4000 0.97\\ -3850 1.00\\ -3700 1.03\\ -3550 0.99\\ -3400 1.02\\ -3250 0.98\\ -3100 1.00\\ -2950 0.97\\ -2800 1.01\\ -2650 0.98\\
-2500 0.95\\ -2350 1.00\\ -2200 0.97\\ -2050 0.99\\ -1900 0.95\\ -1750 0.90\\ -1600 0.86\\ -1500 0.65\\ -1400 0.43\\ -1300 0.70\\
-1200 1.16\\ -1100 1.05\\ -1000 1.10\\ -900 0.95\\ -800 0.85\\ -700 0.70\\ -600 0.65\\ -500 0.85\\ -400 1.02\\ -300 1.08\\
-200 0.98\\ -100 0.92\\ 0 0.90\\
}\velE

% ---------- 1326-00 ----------
\pgfplotstableread[row sep=\\]{
x y\\
5900 0.0\\ 5902 1.3\\ 5905 0.9\\ 5910 1.7\\ 5915 1.1\\ 5920 0.8\\ 5925 1.5\\ 5930 1.2\\ 5935 1.7\\ 5940 1.0\\
5945 1.4\\ 5950 1.8\\ 5955 1.2\\ 5960 1.5\\ 5965 1.1\\ 5970 1.9\\ 5975 1.5\\ 5980 2.0\\ 5985 1.6\\ 5990 2.3\\
5995 1.9\\ 6000 2.7\\ 6005 2.2\\ 6010 2.9\\ 6015 2.3\\ 6020 2.6\\ 6025 2.0\\ 6030 3.0\\ 6035 2.4\\ 6040 2.7\\
6045 2.1\\ 6050 2.5\\ 6055 1.8\\ 6060 2.4\\ 6065 2.0\\ 6070 1.6\\ 6075 2.1\\ 6080 1.7\\ 6085 2.0\\ 6090 1.4\\
6095 1.8\\ 6100 1.3\\ 6105 1.7\\ 6110 1.1\\ 6115 1.5\\ 6120 1.8\\ 6125 1.0\\ 6130 1.3\\ 6135 0.8\\ 6140 1.4\\
6145 1.0\\ 6150 1.5\\ 6155 0.9\\ 6160 1.3\\ 6165 1.0\\ 6170 1.4\\ 6175 0.8\\ 6180 1.2\\ 6185 1.0\\ 6190 1.4\\
6195 1.1\\ 6200 0.8\\ 6205 1.3\\ 6210 1.0\\ 6215 1.2\\ 6220 0.7\\ 6225 1.1\\ 6230 0.9\\ 6235 1.3\\ 6240 0.8\\
6245 1.0\\ 6250 0.6\\ 6255 1.2\\ 6260 0.7\\ 6265 1.1\\ 6270 0.8\\ 6275 1.3\\ 6280 0.9\\ 6285 1.4\\ 6290 0.7\\
6295 1.2\\ 6298 0.5\\ 6301 0.0\\ 6304 0.8\\ 6308 1.3\\ 6312 0.9\\ 6316 1.4\\ 6320 1.1\\ 6325 1.6\\ 6328 1.3\\
6332 2.2\\ 6336 1.2\\ 6340 1.0\\ 6345 1.4\\ 6350 1.1\\ 6355 1.5\\ 6360 0.9\\ 6365 1.3\\ 6370 1.0\\ 6375 1.4\\
6380 1.1\\ 6385 1.5\\ 6390 0.9\\ 6395 1.3\\ 6400 1.0\\ 6405 1.4\\ 6410 1.1\\ 6415 1.3\\ 6420 0.9\\ 6425 1.4\\
6430 1.2\\ 6435 1.5\\ 6440 1.0\\ 6445 1.3\\ 6450 1.1\\ 6455 1.6\\ 6460 1.2\\ 6465 1.4\\ 6470 1.0\\ 6475 1.5\\
6480 1.2\\ 6485 1.7\\ 6490 1.3\\ 6495 1.5\\ 6500 1.1\\ 6505 1.6\\ 6510 1.3\\ 6515 1.8\\ 6520 1.2\\ 6525 1.6\\
6530 1.4\\ 6535 1.9\\ 6540 1.5\\ 6545 1.7\\ 6550 1.4\\ 6555 1.9\\ 6560 1.6\\ 6565 2.1\\ 6570 1.8\\ 6575 2.4\\
6580 2.0\\ 6583 2.5\\ 6586 1.9\\ 6590 1.4\\ 6594 0.9\\ 6598 0.7\\ 6602 0.8\\ 6606 1.1\\ 6610 1.5\\ 6614 1.2\\
6618 1.7\\ 6622 1.3\\ 6626 1.5\\ 6630 1.1\\ 6634 1.8\\ 6638 2.1\\ 6642 2.5\\ 6646 2.2\\ 6650 2.6\\ 6653 2.3\\
6656 4.8\\ 6659 3.6\\ 6662 4.0\\ 6665 5.5\\ 6668 7.0\\ 6671 5.8\\ 6674 6.1\\ 6678 5.6\\ 6682 5.9\\ 6686 5.0\\
6690 4.8\\ 6694 4.3\\ 6698 4.0\\ 6702 3.5\\ 6706 3.3\\ 6710 2.9\\ 6714 2.6\\ 6718 2.3\\ 6722 2.0\\ 6726 1.8\\
6730 1.9\\ 6735 1.5\\ 6740 1.7\\ 6745 1.3\\ 6750 1.5\\ 6755 1.1\\ 6760 1.3\\ 6765 1.0\\ 6770 1.4\\ 6775 1.2\\
6780 1.4\\ 6785 1.1\\ 6790 1.3\\ 6795 1.2\\ 6800 1.4\\
}\specF
\pgfplotstableread[row sep=\\]{
x y\\
5900 1.15\\ 5920 1.22\\ 5940 1.35\\ 5960 1.55\\ 5980 1.80\\ 6000 2.05\\ 6015 2.22\\ 6030 2.30\\ 6045 2.22\\ 6060 2.00\\
6080 1.65\\ 6100 1.30\\ 6120 1.07\\ 6140 0.99\\ 6160 1.01\\ 6180 1.06\\ 6195 1.08\\ 6210 1.05\\ 6230 0.97\\ 6250 0.90\\
6265 0.88\\ 6280 0.90\\ 6300 0.97\\ 6320 1.05\\ 6340 1.10\\ 6360 1.13\\ 6380 1.12\\ 6400 1.12\\ 6420 1.15\\ 6440 1.20\\
6460 1.28\\ 6475 1.35\\ 6490 1.35\\ 6505 1.28\\ 6520 1.20\\ 6530 1.20\\ 6540 1.30\\ 6550 1.60\\ 6560 2.00\\ 6570 2.60\\
6580 3.30\\ 6590 4.10\\ 6600 4.85\\ 6610 5.50\\ 6620 6.05\\ 6630 6.45\\ 6640 6.65\\ 6650 6.60\\ 6660 6.30\\ 6670 5.75\\
6680 5.05\\ 6690 4.25\\ 6700 3.45\\ 6710 2.70\\ 6720 2.10\\ 6730 1.65\\ 6740 1.35\\ 6750 1.17\\ 6760 1.10\\ 6770 1.12\\
6780 1.18\\ 6790 1.24\\ 6800 1.30\\
}\fitF
\pgfplotstableread[row sep=\\]{
x y\\
-25000 0.85\\ -24850 1.25\\ -24700 0.95\\ -24600 1.30\\ -24450 0.80\\ -24300 1.20\\ -24150 0.70\\ -24000 1.10\\ -23850 0.90\\ -23700 1.30\\
-23550 0.85\\ -23400 1.15\\ -23250 1.30\\ -23100 0.95\\ -22950 1.25\\ -22800 0.75\\ -22650 1.10\\ -22500 0.88\\ -22350 1.05\\ -22200 0.80\\
-22100 0.72\\ -22000 0.85\\ -21850 0.60\\ -21750 0.80\\ -21600 1.05\\ -21450 0.90\\ -21300 1.30\\ -21150 0.85\\ -21000 1.10\\ -20850 0.78\\
-20700 1.30\\ -20550 0.95\\ -20400 1.20\\ -20250 0.70\\ -20100 1.00\\ -19950 0.85\\ -19800 1.30\\ -19650 1.00\\ -19500 1.25\\ -19400 0.80\\
-19300 0.70\\ -19150 0.85\\ -19000 0.75\\ -18850 1.30\\ -18700 0.95\\ -18550 0.65\\ -18450 0.55\\ -18300 1.00\\ -18150 0.88\\ -18000 1.10\\
-17850 0.78\\ -17700 1.30\\ -17550 0.95\\ -17400 1.15\\ -17250 0.82\\ -17100 1.05\\ -16950 0.75\\ -16800 0.88\\ -16650 0.70\\ -16500 0.90\\
-16450 0.00\\ -16350 0.60\\ -16250 0.05\\ -16150 0.78\\ -16000 0.85\\ -15850 0.70\\ -15700 1.15\\ -15550 0.90\\ -15400 1.30\\ -15250 0.95\\
-15100 1.10\\ -14950 0.80\\ -14800 1.25\\ -14650 1.00\\ -14500 1.30\\ -14350 0.90\\ -14200 1.20\\ -14050 0.85\\ -13900 1.30\\ -13750 1.05\\
-13600 0.90\\ -13450 1.25\\ -13300 0.95\\ -13150 1.15\\ -13000 1.30\\ -12850 0.85\\ -12700 1.10\\ -12550 0.90\\ -12400 1.30\\ -12250 1.05\\
-12100 0.88\\ -11950 1.15\\ -11800 0.95\\ -11650 1.30\\ -11500 1.00\\ -11350 1.20\\ -11200 0.90\\ -11050 1.30\\ -10900 1.00\\ -10750 1.15\\
-10600 0.85\\ -10450 1.10\\ -10300 0.95\\ -10150 1.05\\ -10000 0.78\\ -9850 0.65\\ -9750 0.88\\ -9600 0.75\\ -9450 0.95\\ -9300 0.80\\
-9150 0.90\\ -9000 0.70\\ -8850 0.85\\ -8700 0.78\\ -8550 1.00\\ -8400 0.75\\ -8250 0.85\\ -8100 0.70\\ -7950 1.30\\ -7800 1.05\\
-7650 1.20\\ -7500 0.95\\ -7350 1.30\\ -7200 1.10\\ -7050 1.30\\ -6900 1.00\\ -6750 1.25\\ -6600 1.10\\ -6450 1.30\\ -6300 1.20\\
-6150 1.30\\ -6000 1.10\\ -5850 1.20\\ -5700 1.05\\ -5550 1.25\\ -5400 1.10\\ -5250 1.15\\ -5100 0.95\\ -4950 1.05\\ -4800 0.85\\
-4650 0.92\\ -4500 0.88\\ -4350 0.93\\ -4200 0.85\\ -4050 0.90\\ -3900 0.82\\ -3800 0.90\\ -3700 0.75\\ -3600 0.62\\ -3500 0.50\\
-3400 0.40\\ -3300 0.30\\ -3200 0.22\\ -3100 0.18\\ -3000 0.16\\ -2900 0.18\\ -2800 0.17\\ -2700 0.22\\ -2600 0.28\\ -2500 0.25\\
-2400 0.30\\ -2300 0.27\\ -2200 0.22\\ -2100 0.25\\ -2000 0.28\\ -1900 0.22\\ -1800 0.26\\ -1700 0.20\\ -1600 0.18\\ -1500 0.25\\
-1400 0.30\\ -1300 0.35\\ -1200 0.33\\ -1100 0.37\\ -1000 0.35\\ -900 0.38\\ -800 0.36\\ -700 0.40\\ -600 0.45\\ -500 0.60\\
-400 0.72\\ -300 0.76\\ -200 0.75\\ -100 0.70\\ 0 0.55\\
}\velF

\pgfplotsset{
  panel/.style={scale only axis, width=334bp, axis on top, tick pos=left,
    tick align=outside, major tick length=3.5bp,
    axis line style={black!80, line width=0.8bp},
    tick style={black!80, line width=0.8bp},
    /pgf/number format/assume math mode=true,
    /pgf/number format/1000 sep={}},
  big/.style={panel, height=195bp,
    tick label style={font=\fontsize{10bp}{12bp}\selectfont},
    label style={font=\fontsize{10bp}{12bp}\selectfont},
    xlabel={Wavelength [Å]},
    ylabel={Flux density [10\textsuperscript{−17}\textit{erg/cm\textsuperscript{2}/sec/Å}]},
    ylabel shift=-3bp,
    title style={at={(0.5,1)}, anchor=north, yshift=-12bp, font=\fontsize{12.5bp}{14bp}\selectfont}},
  small/.style={panel, height=81bp, xmin=-25000, xmax=0, ymin=0, ymax=1.2,
    xtick={-25000,-20000,-15000,-10000,-5000,0},
    xticklabels={−25000,−20000,−15000,−10000,−5000,0},
    scaled x ticks=false,
    ytick={0,0.5,1}, yticklabels={0.0,0.5,1.0},
    tick label style={font=\fontsize{8bp}{10bp}\selectfont},
    label style={font=\fontsize{10bp}{12bp}\selectfont},
    xlabel={Velocity [km/s]}},
  spec/.style={specc, line width=0.9bp},
  fit/.style={fitc, line width=1.3bp},
  region/.style={fill=shade, draw=none},
  peak/.style={dashg, line width=1bp, dash pattern=on 3.7bp off 1.6bp},
  vlim/.style={vlinec, line width=1bp, dash pattern=on 3.7bp off 1.6bp},
}

% trough between the spectrum and 0.9 over [#2,#3]
\newcommand{\absfill}[3]{%
  \addplot[fill=fillc, draw=none, restrict x to domain=#2:#3,
    y filter/.code={\pgfmathparse{min(\pgfmathresult,0.9)}}]
    table {#1} -- (axis cs:#3,0.9) -- (axis cs:#2,0.9) -- cycle;}

\begin{document}
\begin{tikzpicture}
\useasboundingbox (0,0) rectangle (789bp,1054bp);

% ===== row 1 =====
\begin{axis}[big, at={(36bp,1046bp)}, anchor=north west,
  xmin=5050, xmax=5900, ymin=0, ymax=55,
  xtick={5100,5200,...,5900}, ytick={0,10,...,50}, title={1215-00}]
\addplot[region] coordinates {(5050,0) (5265,0) (5265,60) (5050,60)} -- cycle;
\addplot[region] coordinates {(5743,0) (5900,0) (5900,60) (5743,60)} -- cycle;
\addplot[peak] coordinates {(5178,0) (5178,60)};
\addplot[peak] coordinates {(5743,0) (5743,60)};
\addplot[spec] table {\specA};
\addplot[fit] table {\fitA};
\end{axis}
\begin{axis}[small, at={(36bp,813bp)}, anchor=north west]
\absfill{\velA}{-20600}{-5800}
\addplot[vlim] coordinates {(-20600,0) (-20600,1.2)};
\addplot[vlim] coordinates {(-5800,0) (-5800,1.2)};
\addplot[spec] table {\velA};
\end{axis}

\begin{axis}[big, at={(437bp,1046bp)}, anchor=north west,
  xmin=5200, xmax=6000, ymin=0, ymax=18,
  xtick={5200,5300,...,6000}, ytick={0,2,...,18}, title={1237+06}]
\addplot[region] coordinates {(5200,0) (5369,0) (5369,20) (5200,20)} -- cycle;
\addplot[region] coordinates {(5856,0) (6000,0) (6000,20) (5856,20)} -- cycle;
\addplot[peak] coordinates {(5281,0) (5281,20)};
\addplot[peak] coordinates {(5856,0) (5856,20)};
\addplot[spec] table {\specB};
\addplot[fit] table {\fitB};
\end{axis}
\begin{axis}[small, at={(437bp,813bp)}, anchor=north west]
\absfill{\velB}{-19800}{-19200}
\absfill{\velB}{-16000}{-14700}
\absfill{\velB}{-11700}{-11100}
\absfill{\velB}{-7700}{-6400}
\absfill{\velB}{-5300}{-4300}
\addplot[vlim] coordinates {(-19800,0) (-19800,1.2)};
\addplot[vlim] coordinates {(-4200,0) (-4200,1.2)};
\addplot[spec] table {\velB};
\end{axis}

% ===== row 2 =====
\begin{axis}[big, at={(36bp,694bp)}, anchor=north west,
  xmin=5150, xmax=6000, ymin=0, ymax=52,
  xtick={5200,5300,...,6000}, ytick={0,10,...,50}, title={1245+01}]
\addplot[region] coordinates {(5150,0) (5394,0) (5394,60) (5150,60)} -- cycle;
\addplot[region] coordinates {(5884,0) (6000,0) (6000,60) (5884,60)} -- cycle;
\addplot[peak] coordinates {(5306,0) (5306,60)};
\addplot[peak] coordinates {(5884,0) (5884,60)};
\addplot[spec] table {\specC};
\addplot[fit] table {\fitC};
\end{axis}
\begin{axis}[small, at={(36bp,461bp)}, anchor=north west]
\absfill{\velC}{-12300}{-1300}
\addplot[vlim] coordinates {(-12300,0) (-12300,1.2)};
\addplot[vlim] coordinates {(-1300,0) (-1300,1.2)};
\addplot[spec] table {\velC};
\end{axis}

\begin{axis}[big, at={(437bp,694bp)}, anchor=north west,
  xmin=6250, xmax=7200, ymin=0, ymax=5,
  xtick={6400,6600,...,7200}, ytick={0,1,...,5}, title={1250+20}]
\addplot[region] coordinates {(6250,0) (6490,0) (6490,6) (6250,6)} -- cycle;
\addplot[region] coordinates {(7080,0) (7200,0) (7200,6) (7080,6)} -- cycle;
\addplot[peak] coordinates {(6382,0) (6382,6)};
\addplot[peak] coordinates {(7080,0) (7080,6)};
\addplot[spec] table {\specD};
\addplot[fit] table {\fitD};
\end{axis}
\begin{axis}[small, at={(437bp,461bp)}, anchor=north west]
\absfill{\velD}{-16150}{-15700}
\absfill{\velD}{-12400}{-12150}
\absfill{\velD}{-11300}{-11000}
\absfill{\velD}{-3830}{-340}
\addplot[vlim] coordinates {(-3830,0) (-3830,1.2)};
\addplot[vlim] coordinates {(-340,0) (-340,1.2)};
\addplot[spec] table {\velD};
\end{axis}

% ===== row 3 =====
\begin{axis}[big, at={(36bp,343bp)}, anchor=north west,
  xmin=7000, xmax=8000, ymin=0, ymax=10,
  xtick={7000,7200,...,8000}, ytick={0,2,...,10}, title={1305+05}]
\addplot[region] coordinates {(7000,0) (7202,0) (7202,12) (7000,12)} -- cycle;
\addplot[region] coordinates {(7855,0) (8000,0) (8000,12) (7855,12)} -- cycle;
\addplot[peak] coordinates {(7084,0) (7084,12)};
\addplot[peak] coordinates {(7855,0) (7855,12)};
\addplot[spec] table {\specE};
\addplot[fit] table {\fitE};
\end{axis}
\begin{axis}[small, at={(36bp,110bp)}, anchor=north west]
\absfill{\velE}{-22530}{-19460}
\absfill{\velE}{-12900}{-12350}
\absfill{\velE}{-9700}{-9000}
\absfill{\velE}{-4750}{-4150}
\absfill{\velE}{-1650}{-1250}
\absfill{\velE}{-850}{-450}
\addplot[vlim] coordinates {(-22530,0) (-22530,1.2)};
\addplot[vlim] coordinates {(-19460,0) (-19460,1.2)};
\addplot[spec] table {\velE};
\end{axis}

\begin{axis}[big, at={(437bp,343bp)}, anchor=north west,
  xmin=5900, xmax=6800, ymin=0, ymax=9,
  xtick={5900,6000,...,6800}, ytick={0,1,...,9}, title={1326-00}]
\addplot[region] coordinates {(5900,0) (6110,0) (6110,10) (5900,10)} -- cycle;
\addplot[region] coordinates {(6666,0) (6800,0) (6800,10) (6666,10)} -- cycle;
\addplot[peak] coordinates {(6010,0) (6010,10)};
\addplot[peak] coordinates {(6666,0) (6666,10)};
\addplot[spec] table {\specF};
\addplot[fit] table {\fitF};
\end{axis}
\begin{axis}[small, at={(437bp,110bp)}, anchor=north west]
\absfill{\velF}{-22250}{-21700}
\absfill{\velF}{-19400}{-18950}
\absfill{\velF}{-18600}{-18350}
\absfill{\velF}{-16800}{-16000}
\absfill{\velF}{-10050}{-8050}
\absfill{\velF}{-3830}{0}
\addplot[vlim] coordinates {(-3830,0) (-3830,1.2)};
\addplot[vlim] coordinates {(0,0) (0,1.2)};
\addplot[spec] table {\velF};
\end{axis}
\end{tikzpicture}
\end{document}
